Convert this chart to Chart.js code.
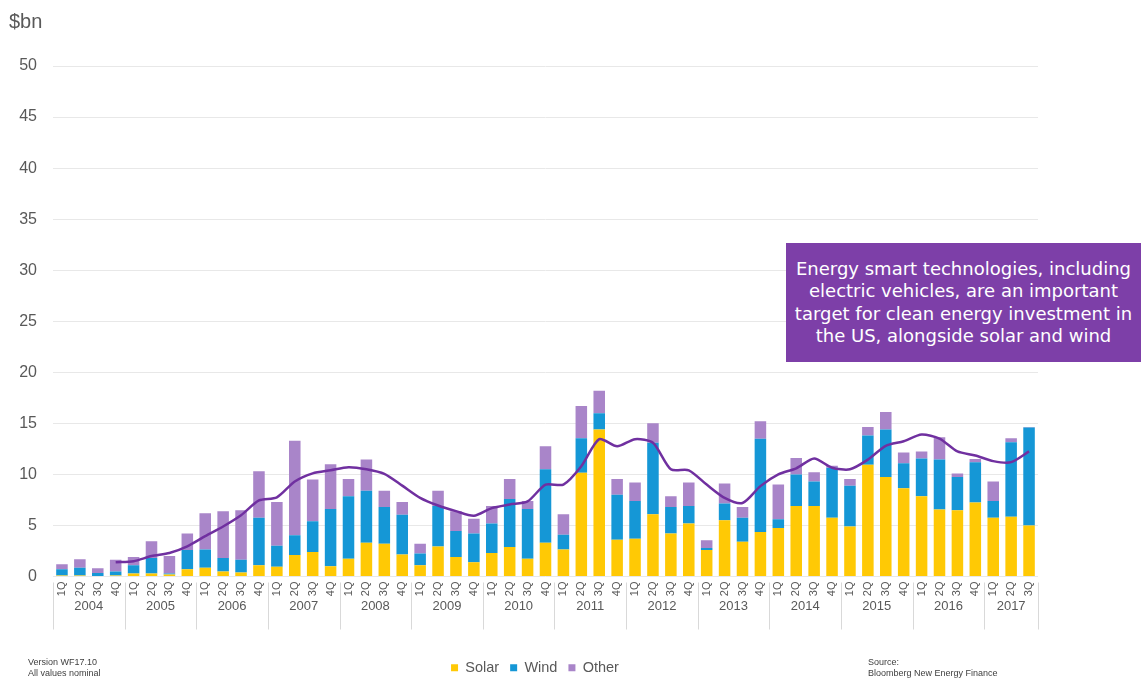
<!DOCTYPE html>
<html><head><meta charset="utf-8">
<script src="https://cdn.jsdelivr.net/npm/chart.js@4/dist/chart.umd.min.js"></script>
<style>
html,body{margin:0;padding:0;background:#fff;}
#wrap{position:relative;width:1141px;height:688px;font-family:"Liberation Sans",Arial,sans-serif;overflow:hidden;}
canvas{position:absolute;left:0;top:0;}
.unit{position:absolute;left:9px;top:10px;font-size:20px;color:#595959;}
.note{position:absolute;font-size:9px;color:#404040;line-height:11px;}
.box{position:absolute;left:786px;top:243px;width:355px;height:119px;background:#7d3fa8;color:#fff;font-family:"DejaVu Sans",sans-serif;font-size:18px;line-height:22.5px;text-align:center;display:flex;align-items:center;justify-content:center;}
</style></head>
<body><div id="wrap">
<canvas id="c" width="1141" height="688"></canvas>
<div class="unit">$bn</div>
<div class="box"><div>Energy smart technologies, including<br>electric vehicles, are an important<br>target for clean energy investment in<br>the US, alongside solar and wind</div></div>
<div class="note" style="left:28px;top:657px;">Version WF17.10<br>All values nominal</div>
<div class="note" style="left:868px;top:657px;">Source:<br>Bloomberg New Energy Finance</div>
</div>
<script>
const quarterLabels = [
 '1Q','2Q','3Q','4Q', '1Q','2Q','3Q','4Q', '1Q','2Q','3Q','4Q', '1Q','2Q','3Q','4Q',
 '1Q','2Q','3Q','4Q', '1Q','2Q','3Q','4Q', '1Q','2Q','3Q','4Q', '1Q','2Q','3Q','4Q',
 '1Q','2Q','3Q','4Q', '1Q','2Q','3Q','4Q', '1Q','2Q','3Q','4Q', '1Q','2Q','3Q','4Q',
 '1Q','2Q','3Q','4Q', '1Q','2Q','3Q'];
const years = ['2004','2005','2006','2007','2008','2009','2010','2011','2012','2013','2014','2015','2016','2017'];
const quartersPerYear = [4,4,4,4,4,4,4,4,4,4,4,4,4,3];

const solar = [
 0.1,0.1,0.05,0.1,
 0.3,0.3,0.2,0.7,
 0.85,0.5,0.4,1.1,
 0.95,2.1,2.4,1.0,
 1.75,3.3,3.2,2.15,
 1.1,2.95,1.9,1.4,
 2.3,2.9,1.75,3.3,
 2.65,10.15,14.4,3.6,
 3.7,6.1,4.2,5.2,
 2.6,5.5,3.4,4.35,
 4.75,6.9,6.9,5.75,
 4.9,10.95,9.75,8.65,
 7.85,6.55,6.5,7.25,
 5.75,5.85,5.0];
const wind = [
 0.6,0.75,0.3,0.4,
 0.8,1.5,0.1,1.9,
 1.8,1.3,1.25,4.65,
 2.05,1.95,3.0,5.6,
 6.1,5.1,3.6,3.9,
 1.15,3.95,2.55,2.8,
 2.9,4.7,4.85,7.2,
 1.45,3.4,1.6,4.4,
 3.7,7.0,2.6,1.7,
 0.2,1.65,2.35,9.15,
 0.85,3.1,2.4,4.9,
 4.0,2.85,4.65,2.45,
 3.7,4.9,3.25,3.95,
 1.65,7.3,9.6];
const other = [
 0.5,0.85,0.45,1.15,
 0.8,1.65,1.7,1.6,
 3.55,4.6,4.85,4.55,
 4.3,9.25,4.1,4.4,
 1.7,3.05,1.6,1.25,
 0.95,1.5,1.95,1.45,
 1.7,1.95,0.8,2.25,
 2.0,3.15,2.2,1.55,
 1.8,1.9,1.05,2.3,
 0.75,1.95,1.05,1.7,
 3.4,1.6,0.9,0.2,
 0.65,0.85,1.7,1.05,
 0.7,2.2,0.35,0.3,
 1.9,0.4,0.05];
const trend = [
 null,null,null,1.4,
 1.5,2.0,2.3,2.95,
 3.95,4.9,6.0,7.45,
 7.75,9.3,10.1,10.4,
 10.7,10.5,10.05,8.9,
 7.7,6.95,6.4,5.95,
 6.7,7.05,7.35,9.0,
 9.0,10.8,13.45,12.75,
 13.45,13.1,10.5,10.4,
 9.0,7.7,7.2,8.85,
 10.0,10.6,11.55,10.65,
 10.5,11.45,12.8,13.25,
 13.9,13.5,12.25,11.85,
 11.3,11.2,12.25];

const FONT = '"Liberation Sans", Arial, sans-serif';

const yearAxisPlugin = {
  id: 'yearAxis',
  afterLayout(chart) {
    if (chart.legend) { chart.legend.left += 16; chart.legend.right += 16; }
  },
  afterDraw(chart) {
    const ctx = chart.ctx, x = chart.scales.x, area = chart.chartArea;
    const step = x.getPixelForValue(1) - x.getPixelForValue(0);
    ctx.save();
    ctx.strokeStyle = '#d9d9d9';
    ctx.lineWidth = 1;
    ctx.fillStyle = '#595959';
    ctx.font = '13px ' + FONT;
    ctx.textAlign = 'center';
    ctx.textBaseline = 'middle';
    let idx = 0;
    const drawSep = (px) => {
      ctx.beginPath();
      ctx.moveTo(Math.round(px) + 0.5, area.bottom + 6);
      ctx.lineTo(Math.round(px) + 0.5, area.bottom + 53);
      ctx.stroke();
    };
    years.forEach((yr, i) => {
      const n = quartersPerYear[i];
      const left = x.getPixelForValue(idx) - step / 2;
      const right = x.getPixelForValue(idx + n - 1) + step / 2;
      drawSep(left);
      if (i === years.length - 1) drawSep(right);
      ctx.fillText(yr, (left + right) / 2, area.bottom + 30);
      idx += n;
    });
    ctx.restore();
  }
};

new Chart(document.getElementById('c'), {
  data: {
    labels: quarterLabels,
    datasets: [
      {type:'line', label:'Trend', data: trend, borderColor:'#7030a0', borderWidth:2.5, pointRadius:0, tension:0.25, fill:false, order:0, stack:'line'},
      {type:'bar', label:'Solar', data: solar, backgroundColor:'#ffc905', order:1, stack:'s'},
      {type:'bar', label:'Wind', data: wind, backgroundColor:'#1597d6', order:1, stack:'s'},
      {type:'bar', label:'Other', data: other, backgroundColor:'#a985c9', order:1, stack:'s'}
    ]
  },
  options: {
    responsive:false,
    animation:false,
    layout:{padding:{left:0,right:103,top:66,bottom:3}},
    datasets:{bar:{categoryPercentage:0.7, barPercentage:0.92}},
    plugins:{
      legend:{position:'bottom', labels:{boxWidth:7, boxHeight:7, padding:11, color:'#595959', font:{size:14.5, family:FONT}, filter:(item)=>item.text!=='Trend'}},
      tooltip:{enabled:false}
    },
    scales:{
      x:{stacked:true, grid:{display:false, drawTicks:false}, border:{display:false},
         ticks:{autoSkip:false, maxRotation:90, minRotation:90, padding:5, color:'#595959', font:{size:11, family:FONT}},
         afterFit:(s)=>{s.height=73;}},
      y:{stacked:true, min:0, max:50, border:{display:false},
         grid:{color:'#e8e8e8', drawTicks:false},
         ticks:{stepSize:5, padding:16, color:'#595959', font:{size:16, family:FONT}},
         afterFit:(s)=>{s.width=53;}}
    }
  },
  plugins:[yearAxisPlugin]
});
</script>
</body></html>
